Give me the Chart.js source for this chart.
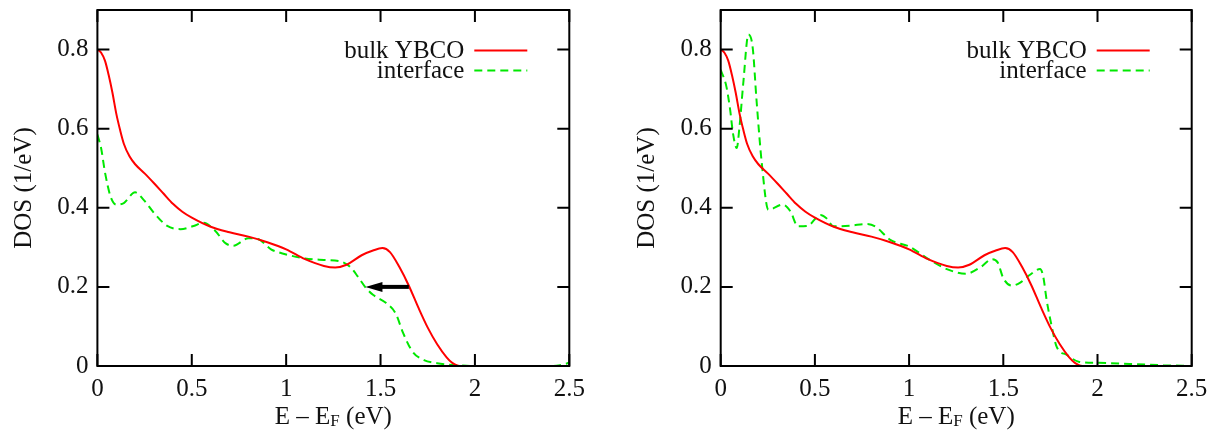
<!DOCTYPE html>
<html><head><meta charset="utf-8">
<script src="https://cdn.jsdelivr.net/npm/chart.js@4.4.1/dist/chart.umd.min.js"></script>
<style>
html,body{margin:0;padding:0;background:#fff;}
body{width:1217px;height:430px;position:relative;overflow:hidden;}
.box{position:absolute;top:0;height:430px;}
canvas{display:block;}
</style></head><body>
<div class="box" style="left:0;width:600px"><canvas id="c1" width="600" height="430"></canvas></div>
<div class="box" style="left:623px;width:594px"><canvas id="c2" width="594" height="430"></canvas></div>
<script>
// ---- data ----
const xTicks = [0, 0.5, 1, 1.5, 2, 2.5];
const yTicks = [0, 0.2, 0.4, 0.6, 0.8];
const xRange = [0, 2.5];
const yRange = [0, 0.9];
const seriesLabels = ['bulk YBCO', 'interface'];
const xTitleParts = ['E – E', 'F', ' (eV)'];
const yTitle = 'DOS (1/eV)';

const bulkE   = [0, 0.02, 0.04, 0.06, 0.08, 0.1, 0.12, 0.14, 0.17, 0.2, 0.25, 0.3, 0.35, 0.4, 0.45, 0.5, 0.6, 0.7, 0.8, 0.9, 1.0, 1.1, 1.2, 1.26, 1.32, 1.4, 1.46, 1.51, 1.55, 1.6, 1.65, 1.7, 1.75, 1.8, 1.85, 1.88, 1.92, 2.0, 2.5];
const bulkDOS = [0.8, 0.792, 0.772, 0.735, 0.69, 0.638, 0.597, 0.562, 0.53, 0.51, 0.487, 0.462, 0.436, 0.41, 0.39, 0.375, 0.352, 0.338, 0.327, 0.313, 0.295, 0.27, 0.253, 0.249, 0.256, 0.28, 0.292, 0.298, 0.288, 0.25, 0.203, 0.148, 0.097, 0.055, 0.022, 0.008, 0, 0, 0];

const ifaceAE   = [0, 0.02, 0.04, 0.07, 0.1, 0.14, 0.2, 0.245, 0.3, 0.37, 0.44, 0.51, 0.56, 0.62, 0.68, 0.72, 0.8, 0.85, 0.92, 0.95, 1.0, 1.1, 1.2, 1.29, 1.34, 1.38, 1.42, 1.46, 1.53, 1.58, 1.62, 1.67, 1.73, 1.8, 1.9, 2.0, 2.4, 2.45, 2.5];
const ifaceADOS = [0.585, 0.55, 0.49, 0.428, 0.408, 0.412, 0.439, 0.42, 0.387, 0.354, 0.346, 0.354, 0.362, 0.344, 0.31, 0.304, 0.323, 0.321, 0.295, 0.289, 0.282, 0.272, 0.268, 0.264, 0.25, 0.226, 0.199, 0.18, 0.159, 0.133, 0.083, 0.036, 0.015, 0.007, 0.002, 0, 0, 0.002, 0.008];

const ifaceBE   = [0, 0.03, 0.05, 0.065, 0.085, 0.1, 0.12, 0.147, 0.17, 0.19, 0.218, 0.253, 0.33, 0.37, 0.41, 0.46, 0.53, 0.56, 0.6, 0.69, 0.775, 0.82, 0.9, 1.0, 1.11, 1.2, 1.3, 1.38, 1.44, 1.47, 1.5, 1.545, 1.59, 1.64, 1.695, 1.712, 1.73, 1.757, 1.783, 1.837, 1.9, 2.0, 2.17, 2.35, 2.5];
const ifaceBDOS = [0.749, 0.707, 0.648, 0.589, 0.551, 0.606, 0.716, 0.838, 0.804, 0.673, 0.513, 0.395, 0.408, 0.391, 0.353, 0.354, 0.382, 0.374, 0.353, 0.355, 0.359, 0.353, 0.319, 0.302, 0.268, 0.245, 0.233, 0.25, 0.27, 0.262, 0.222, 0.203, 0.211, 0.23, 0.245, 0.226, 0.167, 0.1, 0.049, 0.028, 0.011, 0.008, 0.005, 0.002, 0];

const arrowFrom = [1.65, 0.2];
const arrowTo   = [1.42, 0.2];

const RED = '#ff0000', GREEN = '#00e800';
const FONT = '"Liberation Serif", "DejaVu Serif", serif';
const FS = 25;

function pts(xs, ys) { return xs.map((x, i) => ({x: x, y: ys[i]})); }

const decorPlugin = {
  id: 'decor',
  afterDatasetsDraw(chart, args, opts) {
    const ctx = chart.ctx, a = chart.chartArea;
    const sx = chart.scales.x, sy = chart.scales.y;
    ctx.save();
    // arrow
    if (opts.arrow) {
      const x1 = sx.getPixelForValue(opts.arrow[0][0]), y1 = sy.getPixelForValue(opts.arrow[0][1]);
      const x2 = sx.getPixelForValue(opts.arrow[1][0]), y2 = sy.getPixelForValue(opts.arrow[1][1]);
      const dir = Math.sign(x2 - x1);
      ctx.strokeStyle = '#000'; ctx.fillStyle = '#000'; ctx.lineWidth = 4;
      ctx.beginPath(); ctx.moveTo(x1, y1); ctx.lineTo(x2 - dir * 12, y2); ctx.stroke();
      ctx.beginPath(); ctx.moveTo(x2, y2); ctx.lineTo(x2 - dir * 17, y2 - 5); ctx.lineTo(x2 - dir * 17, y2 + 5); ctx.closePath(); ctx.fill();
    }
    // frame
    ctx.strokeStyle = '#000'; ctx.lineWidth = 2; ctx.setLineDash([]);
    ctx.strokeRect(a.left, a.top, a.right - a.left, a.bottom - a.top);
    // inward ticks
    ctx.lineWidth = 2;
    ctx.beginPath();
    xTicks.forEach(v => {
      const p = sx.getPixelForValue(v);
      ctx.moveTo(p, a.bottom); ctx.lineTo(p, a.bottom - 12);
      ctx.moveTo(p, a.top); ctx.lineTo(p, a.top + 12);
    });
    yTicks.forEach(v => {
      const p = sy.getPixelForValue(v);
      ctx.moveTo(a.left, p); ctx.lineTo(a.left + 12, p);
      ctx.moveTo(a.right, p); ctx.lineTo(a.right - 12, p);
    });
    ctx.stroke();
    // legend (gnuplot style: text then sample)
    ctx.font = FS + 'px ' + FONT;
    ctx.fillStyle = '#111';
    ctx.textAlign = 'right'; ctx.textBaseline = 'middle';
    chart.data.datasets.forEach((ds, i) => {
      const y = a.top + 40.5 + i * 20;
      ctx.fillText(ds.label, a.right - 105, y + 1);
      ctx.strokeStyle = ds.borderColor; ctx.lineWidth = 2;
      ctx.setLineDash(ds.borderDash || []);
      ctx.beginPath(); ctx.moveTo(a.right - 95, y); ctx.lineTo(a.right - 42, y); ctx.stroke();
    });
    ctx.setLineDash([]);
    // y title
    ctx.save();
    ctx.translate(a.left - 73, (a.top + a.bottom) / 2);
    ctx.rotate(-Math.PI / 2);
    ctx.textAlign = 'center'; ctx.textBaseline = 'middle';
    ctx.fillText(yTitle, 0, 0);
    ctx.restore();
    // x title with subscript
    const big = FS + 'px ' + FONT, small = Math.round(FS * 0.66) + 'px ' + FONT;
    ctx.textAlign = 'left'; ctx.textBaseline = 'alphabetic';
    ctx.font = big; const w0 = ctx.measureText(xTitleParts[0]).width, w2 = ctx.measureText(xTitleParts[2]).width;
    ctx.font = small; const w1 = ctx.measureText(xTitleParts[1]).width;
    let x0 = (a.left + a.right) / 2 - (w0 + w1 + w2) / 2;
    const base = a.bottom + 58;
    ctx.font = big; ctx.fillText(xTitleParts[0], x0, base);
    ctx.font = small; ctx.fillText(xTitleParts[1], x0 + w0, base + 2);
    ctx.font = big; ctx.fillText(xTitleParts[2], x0 + w0 + w1, base);
    ctx.restore();
  }
};

function makeChart(id, ifaceE, ifaceDOS, rightPad, yWidth, arrow) {
  return new Chart(document.getElementById(id), {
    type: 'scatter',
    data: {
      datasets: [
        {label: seriesLabels[0], data: pts(bulkE, bulkDOS), showLine: true, borderColor: RED, borderWidth: 2, pointRadius: 0, cubicInterpolationMode: 'monotone', fill: false},
        {label: seriesLabels[1], data: pts(ifaceE, ifaceDOS), showLine: true, borderColor: GREEN, borderWidth: 2, borderDash: [8, 5], pointRadius: 0, cubicInterpolationMode: 'monotone', fill: false}
      ]
    },
    options: {
      responsive: false, animation: false, devicePixelRatio: 1,
      layout: {padding: {left: 0, top: 10, right: rightPad, bottom: 0}},
      plugins: {legend: {display: false}, tooltip: {enabled: false}, decor: {arrow: arrow}},
      scales: {
        x: {
          type: 'linear', min: xRange[0], max: xRange[1],
          grid: {display: false, drawTicks: false}, border: {display: false},
          afterBuildTicks: s => { s.ticks = xTicks.map(v => ({value: v})); },
          afterFit: s => { s.height = 64; s.paddingLeft = 0; s.paddingRight = 0; },
          ticks: {padding: 8, maxRotation: 0, autoSkip: false, color: '#111', font: {family: FONT, size: FS}, callback: v => String(v)}
        },
        y: {
          type: 'linear', min: yRange[0], max: yRange[1],
          grid: {display: false, drawTicks: false}, border: {display: false},
          afterBuildTicks: s => { s.ticks = yTicks.map(v => ({value: v})); },
          afterFit: s => { s.width = yWidth; s.paddingTop = 0; s.paddingBottom = 0; },
          ticks: {padding: 9, autoSkip: false, color: '#111', font: {family: FONT, size: FS}, callback: v => String(v)}
        }
      }
    },
    plugins: [decorPlugin]
  });
}

makeChart('c1', ifaceAE, ifaceADOS, 30.7, 97.4, [arrowFrom, arrowTo]);
makeChart('c2', ifaceBE, ifaceBDOS, 25.3, 97.7, null);
</script>
</body></html>
